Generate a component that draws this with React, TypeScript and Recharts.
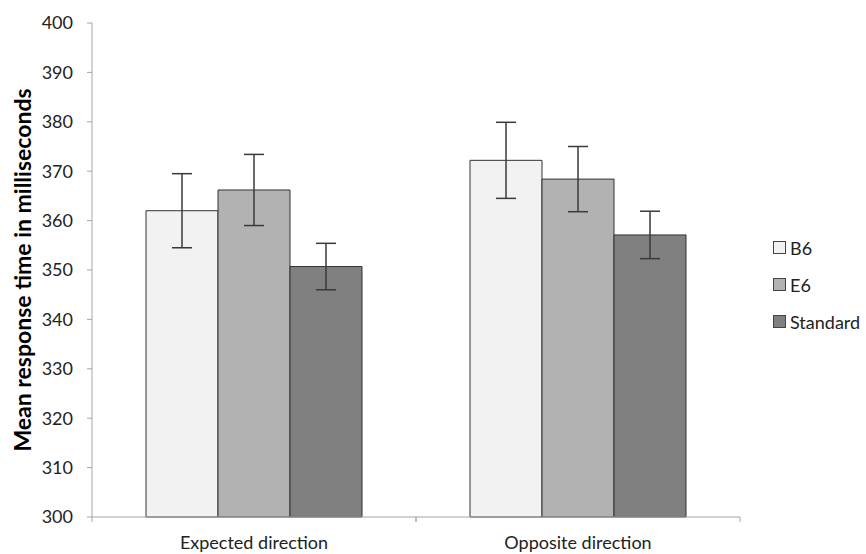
import { Bar, BarChart, ErrorBar, XAxis, YAxis } from 'recharts'

const categories = ['Expected direction', 'Opposite direction']
const b6 = [362.0, 372.2]
const b6Err = [7.5, 7.7]
const e6 = [366.2, 368.4]
const e6Err = [7.2, 6.6]
const standard = [350.7, 357.1]
const standardErr = [4.7, 4.8]
const yTicks = [300, 310, 320, 330, 340, 350, 360, 370, 380, 390, 400]

const series = [
  { key: 'b6', name: 'B6', fill: '#f2f2f2' },
  { key: 'e6', name: 'E6', fill: '#b2b2b2' },
  { key: 'standard', name: 'Standard', fill: '#808080' },
]

const data = categories.map((c, i) => ({
  category: c,
  b6: b6[i],
  b6Err: b6Err[i],
  e6: e6[i],
  e6Err: e6Err[i],
  standard: standard[i],
  standardErr: standardErr[i],
}))

const FONT = 'Lato, "Open Sans", sans-serif'
const AXIS = '#a6a6a6'

function CategoryTick(props: any) {
  const { x, y, payload } = props
  const half = payload.offset ?? 162
  const axisY = y - 16
  return (
    <g>
      <line x1={x - half} x2={x - half} y1={axisY} y2={axisY + 5} stroke={AXIS} />
      <line x1={x + half} x2={x + half} y1={axisY} y2={axisY + 5} stroke={AXIS} />
      <text x={x} y={axisY + 32} textAnchor="middle" fill="#222" fontSize={18} fontFamily={FONT}>
        {payload.value}
      </text>
    </g>
  )
}

export default function App() {
  return (
    <div style={{ position: 'absolute', left: 0, top: 0, width: 866, height: 554, background: '#fff' }}>
      <BarChart
        width={866}
        height={554}
        data={data}
        margin={{ top: 23, right: 126, bottom: 0, left: 0 }}
        barCategoryGap="16.67%"
        barGap={0}
      >
        <XAxis
          dataKey="category"
          height={37}
          axisLine={{ stroke: AXIS }}
          tickLine={false}
          tickSize={5}
          tickMargin={11}
          tick={<CategoryTick />}
          interval={0}
        />
        <YAxis
          width={92}
          domain={[300, 400]}
          ticks={yTicks}
          interval={0}
          axisLine={{ stroke: AXIS }}
          tickLine={{ stroke: AXIS }}
          tickSize={5}
          tickMargin={14}
          tick={{ fill: '#222', fontSize: 18, fontFamily: FONT }}
          label={{
            value: 'Mean response time in milliseconds',
            angle: -90,
            position: 'center',
            dx: -23,
            style: { fill: '#000', fontSize: 23, fontWeight: 700, fontFamily: FONT },
          }}
        />
        {series.map((s) => (
          <Bar key={s.key} dataKey={s.key} name={s.name} fill={s.fill} stroke="#333" strokeWidth={1} isAnimationActive={false}>
            <ErrorBar dataKey={`${s.key}Err`} width={10} stroke="#3a3a3a" strokeWidth={1.5} direction="y" />
          </Bar>
        ))}
      </BarChart>
      <div style={{ position: 'absolute', left: 773, top: 229, fontFamily: FONT, fontSize: 18, color: '#222' }}>
        {series.map((s) => (
          <div key={s.key} style={{ display: 'flex', alignItems: 'center', height: 37 }}>
            <span style={{ width: 11, height: 11, background: s.fill, border: '1px solid #444', marginRight: 4, display: 'inline-block' }} />
            <span>{s.name}</span>
          </div>
        ))}
      </div>
    </div>
  )
}
